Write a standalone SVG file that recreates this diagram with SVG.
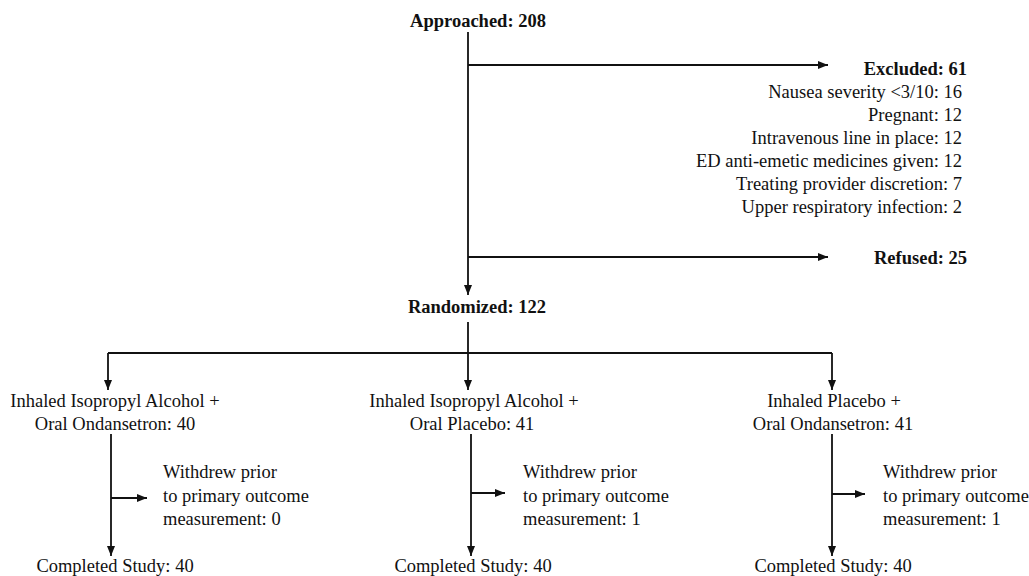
<svg xmlns="http://www.w3.org/2000/svg" width="1029" height="576" viewBox="0 0 1029 576">
<style>
text{font-family:"Liberation Serif","Times New Roman",serif;font-size:18.5px;fill:#111}
.b{font-weight:bold}
.c{text-anchor:middle}
.r{text-anchor:end}
.ln{stroke:#111;stroke-width:1.8;fill:none}
</style>
<defs>
<marker id="ah" viewBox="0 0 10 10" refX="10" refY="5" markerWidth="11" markerHeight="10" markerUnits="userSpaceOnUse" orient="auto">
<path d="M0,1 L10,5 L0,9 Z" fill="#111"/>
</marker>
</defs>
<rect width="1029" height="576" fill="#fff"/>
<g id="connectors">
<path class="ln" d="M468,32 V295" marker-end="url(#ah)"/>
<path class="ln" d="M468,65 H828" marker-end="url(#ah)"/>
<path class="ln" d="M468,257 H828" marker-end="url(#ah)"/>
<path class="ln" d="M468,322 V353"/>
<path class="ln" d="M108,353 H832"/>
<path class="ln" d="M108,353 V390" marker-end="url(#ah)"/>
<path class="ln" d="M468,353 V390" marker-end="url(#ah)"/>
<path class="ln" d="M832,353 V390" marker-end="url(#ah)"/>
<path class="ln" d="M111,434 V556" marker-end="url(#ah)"/>
<path class="ln" d="M111,498 H147" marker-end="url(#ah)"/>
<path class="ln" d="M471,434 V556" marker-end="url(#ah)"/>
<path class="ln" d="M471,493 H505" marker-end="url(#ah)"/>
<path class="ln" d="M832,434 V556" marker-end="url(#ah)"/>
<path class="ln" d="M832,494 H865" marker-end="url(#ah)"/>
</g>
<g id="approached"><text class="b c" x="478" y="27">Approached: 208</text></g>
<g id="excluded">
<text class="b r" x="967" y="75">Excluded: 61</text>
<text class="r" x="962" y="98">Nausea severity &lt;3/10: 16</text>
<text class="r" x="962" y="121">Pregnant: 12</text>
<text class="r" x="962" y="144">Intravenous line in place: 12</text>
<text class="r" x="962" y="167">ED anti-emetic medicines given: 12</text>
<text class="r" x="962" y="190">Treating provider discretion: 7</text>
<text class="r" x="962" y="213">Upper respiratory infection: 2</text>
</g>
<g id="refused"><text class="b r" x="967" y="264">Refused: 25</text></g>
<g id="randomized"><text class="b c" x="477" y="313">Randomized: 122</text></g>
<g id="arm1">
<text class="c" x="115" y="407">Inhaled Isopropyl Alcohol +</text>
<text class="c" x="115" y="430">Oral Ondansetron: 40</text>
</g>
<g id="withdrew1">
<text x="163" y="478">Withdrew prior</text>
<text x="163" y="502">to primary outcome</text>
<text x="163" y="525">measurement: 0</text>
</g>
<g id="completed1"><text class="c" x="115" y="572">Completed Study: 40</text></g>
<g id="arm2">
<text class="c" x="474" y="407">Inhaled Isopropyl Alcohol +</text>
<text class="c" x="472" y="430">Oral Placebo: 41</text>
</g>
<g id="withdrew2">
<text x="523" y="478">Withdrew prior</text>
<text x="523" y="502">to primary outcome</text>
<text x="523" y="525">measurement: 1</text>
</g>
<g id="completed2"><text class="c" x="473" y="572">Completed Study: 40</text></g>
<g id="arm3">
<text class="c" x="834" y="407">Inhaled Placebo +</text>
<text class="c" x="833" y="430">Oral Ondansetron: 41</text>
</g>
<g id="withdrew3">
<text x="883" y="478">Withdrew prior</text>
<text x="883" y="502">to primary outcome</text>
<text x="883" y="525">measurement: 1</text>
</g>
<g id="completed3"><text class="c" x="833" y="572">Completed Study: 40</text></g>
</svg>
